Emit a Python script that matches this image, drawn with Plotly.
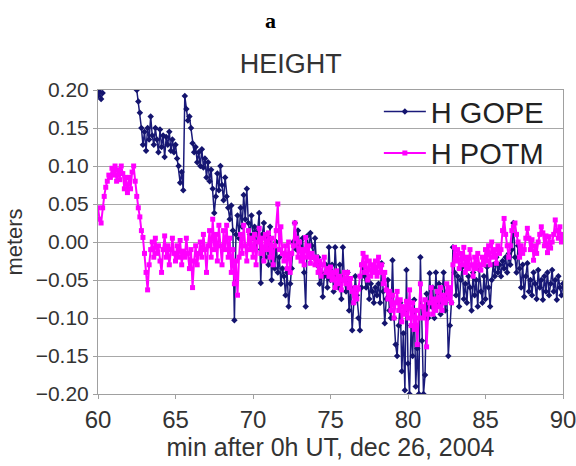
"""HEIGHT panel: GOPE vs POTM height series."""
import numpy as np
import plotly.graph_objects as go

# time stamps, minutes after 0h UT (one sample every 0.1 min)
minutes = np.round(np.arange(600, 901) / 10, 1)

# H GOPE, metres (None = no data / off scale)
h_gope = [
    0.192, 0.198, 0.188, 0.196, None, None, None, None, None, None,                # 60
    None, None, None, None, None, None, None, None, None, None,                    # 61
    None, None, None, None, None, 0.200, 0.185, 0.170, 0.150, 0.128,               # 62
    0.145, 0.120, 0.150, 0.135, 0.165, 0.140, 0.128, 0.150, 0.135, 0.118,          # 63
    0.148, 0.125, 0.140, 0.112, 0.138, 0.128, 0.145, 0.120, 0.135, 0.118,          # 64
    0.128, 0.110, 0.100, 0.078, 0.092, 0.068, 0.192, 0.175, 0.160, 0.165,          # 65
    0.150, 0.130, 0.118, 0.125, 0.105, 0.118, 0.100, 0.122, 0.098, 0.110,          # 66
    0.085, 0.105, 0.080, 0.095, 0.070, 0.038, 0.060, 0.090, 0.068, 0.100,          # 67
    0.075, 0.055, 0.085, 0.060, 0.045, 0.030, 0.048, 0.015, -0.103, 0.010,         # 68
    0.035, 0.005, 0.045, 0.020, 0.062, 0.030, 0.070, 0.025, 0.010, 0.035,          # 69
    0.005, 0.020, -0.010, 0.015, 0.038, -0.054, 0.010, 0.025, -0.020, 0.005,       # 70
    -0.030, 0.020, -0.050, -0.010, -0.035, 0.000, -0.040, -0.020, -0.055, -0.035,  # 71
    -0.045, -0.070, -0.040, -0.085, -0.055, -0.035, 0.000, 0.025, -0.010, 0.015,   # 72
    -0.005, -0.020, 0.005, -0.040, -0.085, 0.008, -0.015, 0.012, -0.005, -0.020,   # 73
    0.005, -0.030, -0.020, -0.055, -0.040, -0.072, -0.045, -0.030, -0.060, -0.007, # 74
    -0.050, -0.030, -0.065, -0.007, -0.045, -0.060, -0.030, -0.075, -0.007, -0.050,  # 75
    -0.065, -0.040, -0.090, -0.060, -0.116, -0.080, -0.045, -0.070, -0.100, -0.116,  # 76
    -0.060, -0.028, -0.045, -0.060, -0.050, -0.075, -0.055, -0.065, -0.080, -0.060,  # 77
    -0.070, -0.055, -0.080, -0.028, -0.065, -0.107, -0.075, -0.050, -0.090, -0.100,  # 78
    -0.024, -0.100, -0.135, -0.150, -0.110, -0.080, -0.170, -0.120, -0.195, -0.037,  # 79
    -0.160, -0.200, -0.110, -0.150, -0.076, -0.190, -0.140, -0.200, -0.020, -0.130,  # 80
    -0.200, -0.175, -0.068, -0.100, -0.041, -0.085, -0.060, -0.100, -0.040, -0.080,  # 81
    -0.055, -0.095, -0.070, -0.040, -0.090, -0.065, -0.150, -0.110, -0.080, -0.007,  # 82
    -0.040, -0.070, -0.045, -0.085, -0.050, -0.033, -0.075, -0.055, -0.080, -0.045,  # 83
    -0.060, -0.090, -0.040, -0.070, -0.050, -0.085, -0.037, -0.065, -0.080, -0.045,  # 84
    -0.075, -0.033, -0.060, -0.085, -0.050, -0.030, -0.045, -0.020, -0.040, -0.030,  # 85
    -0.045, -0.025, -0.035, -0.020, -0.040, -0.015, -0.030, -0.010, 0.025, -0.020,   # 86
    -0.040, -0.005, -0.035, -0.060, -0.030, -0.072, -0.045, -0.028, -0.065, -0.050,  # 87
    -0.070, -0.040, -0.055, -0.075, -0.037, -0.060, -0.050, -0.076, -0.045, -0.065,  # 88
    -0.040, -0.070, -0.055, -0.037, -0.065, -0.050, -0.076, -0.045, -0.060, -0.070,  # 89
    -0.055,                                                                          # 90
]

# H POTM, metres
h_potm = [
    0.045, 0.030, 0.025, 0.045, 0.060, 0.072, 0.080, 0.088, 0.085, 0.097,          # 60
    0.088, 0.100, 0.080, 0.095, 0.082, 0.100, 0.090, 0.070, 0.085, 0.065,          # 61
    0.085, 0.070, 0.092, 0.100, 0.080, 0.060, 0.045, 0.033, 0.015, 0.006,          # 62
    -0.015, -0.040, -0.063, -0.030, -0.010, 0.000, -0.020, 0.005, -0.015, -0.005,  # 63
    -0.025, -0.040, -0.010, 0.008, -0.020, -0.005, -0.030, -0.010, 0.005, -0.015,  # 64
    -0.025, -0.005, -0.020, 0.002, -0.030, -0.012, -0.020, 0.005, -0.015, -0.035,  # 65
    -0.010, -0.060, -0.025, -0.005, -0.030, -0.015, 0.000, -0.020, 0.010, -0.010,  # 66
    -0.040, -0.005, 0.015, -0.020, 0.030, -0.010, 0.010, -0.025, 0.022, -0.005,    # 67
    -0.030, 0.015, -0.010, 0.022, -0.020, 0.005, -0.040, -0.010, -0.055, -0.025,   # 68
    -0.070, -0.020, 0.010, -0.015, 0.022, -0.005, -0.025, 0.015, -0.010, 0.005,    # 69
    -0.020, 0.010, -0.030, 0.000, 0.018, -0.015, 0.005, -0.025, 0.010, -0.010,     # 70
    0.012, -0.020, 0.005, -0.030, -0.005, 0.015, 0.050, -0.010, 0.020, -0.015,     # 71
    -0.025, -0.005, -0.035, 0.000, -0.040, -0.015, -0.005, 0.025, 0.005, -0.020,   # 72
    0.000, -0.025, -0.010, -0.030, 0.006, -0.020, -0.005, -0.028, -0.015, -0.020,  # 73
    -0.030, -0.020, -0.040, -0.025, -0.045, -0.030, -0.020, -0.040, -0.035, -0.045,  # 74
    -0.033, -0.050, -0.040, -0.060, -0.038, -0.055, -0.045, -0.063, -0.050, -0.040,  # 75
    -0.055, -0.040, -0.060, -0.048, -0.065, -0.080, -0.060, -0.075, -0.062, -0.045,  # 76
    -0.030, -0.015, -0.040, -0.020, -0.050, -0.025, -0.045, -0.030, -0.040, -0.025,  # 77
    -0.045, -0.020, -0.040, -0.030, -0.055, -0.040, -0.063, -0.075, -0.065, -0.090,  # 78
    -0.070, -0.100, -0.080, -0.065, -0.090, -0.076, -0.105, -0.085, -0.095, -0.078,  # 79
    -0.100, -0.063, -0.110, -0.080, -0.115, -0.090, -0.135, -0.100, -0.055, -0.085,  # 80
    -0.100, -0.076, -0.138, -0.095, -0.080, -0.060, -0.095, -0.075, -0.090, -0.065,  # 81
    -0.085, -0.060, -0.090, -0.070, -0.080, -0.055, -0.075, -0.060, -0.080, -0.030,  # 82
    -0.007, -0.025, -0.010, -0.035, -0.015, -0.030, -0.007, -0.040, -0.020, -0.035,  # 83
    -0.010, -0.030, -0.045, -0.020, -0.035, -0.015, -0.030, -0.037, -0.020, -0.030,  # 84
    -0.010, -0.025, -0.005, -0.030, 0.000, -0.020, -0.010, -0.028, -0.005, -0.015,   # 85
    -0.010, 0.015, 0.031, 0.010, -0.005, -0.020, -0.005, 0.015, 0.020, 0.025,        # 86
    0.010, 0.000, -0.020, -0.005, -0.015, -0.010, 0.005, 0.018, 0.005, -0.010,       # 87
    0.003, -0.024, -0.005, -0.015, 0.000, 0.010, 0.020, 0.012, -0.005, 0.008,        # 88
    -0.014, 0.007, -0.008, 0.000, 0.010, 0.029, 0.015, 0.005, 0.020, 0.000,          # 89
    0.010,                                                                           # 90
]

x_ticks = [60, 65, 70, 75, 80, 85, 90]
y_ticks = [-0.20, -0.15, -0.10, -0.05, 0.00, 0.05, 0.10, 0.15, 0.20]

FONT = "Liberation Sans, Arial, sans-serif"
GREY = "#333333"

fig = go.Figure()
fig.add_trace(go.Scatter(
    x=minutes, y=h_gope, name="H GOPE", mode="lines+markers",
    line=dict(color="#1a1a7a", width=1.5),
    marker=dict(symbol="diamond", size=5, color="#14146e"),
    connectgaps=False, legendgroup="g",
))
fig.add_trace(go.Scatter(
    x=minutes, y=h_potm, name="H POTM", mode="lines+markers",
    line=dict(color="#ff00ff", width=2),
    marker=dict(symbol="square", size=5, color="#ff00ff"),
    legendgroup="p",
))

# panel letter above the chart title
fig.add_annotation(text="<b>a</b>", x=0.372, y=1.230, xref="paper", yref="paper",
                   xanchor="center", yanchor="middle", showarrow=False,
                   font=dict(family="Liberation Serif, Times New Roman, serif",
                             size=22, color="black"))

# white block behind the legend hides the gridlines there (as in Excel)
fig.add_shape(type="rect", xref="paper", yref="paper",
              x0=0.596, x1=0.978, y0=0.67, y1=0.995,
              fillcolor="white", line=dict(width=0), layer="between")

fig.update_layout(
    width=576, height=466,
    paper_bgcolor="white", plot_bgcolor="white",
    margin=dict(l=98, r=13, t=90, b=72),
    title=dict(text="HEIGHT", x=0.505, xanchor="center", y=0.863, yanchor="middle",
               font=dict(family=FONT, size=27, color=GREY)),
    font=dict(family=FONT, color=GREY),
    showlegend=True,
    legend=dict(x=0.604, y=1.013, xanchor="left", yanchor="top",
                bgcolor="rgba(0,0,0,0)", borderwidth=0, tracegroupgap=1,
                font=dict(size=29, color="#222222"), itemwidth=42),
    xaxis=dict(range=[60, 90], tickvals=x_ticks, showgrid=False,
               showline=True, linecolor="#a0a0a0", linewidth=1, mirror=True,
               ticks="outside", ticklen=4, tickcolor="#a0a0a0",
               ticklabeloverflow="allow", automargin=False,
               tickfont=dict(size=24, color=GREY),
               title=dict(text="min after 0h UT, dec 26, 2004", standoff=4,
                          font=dict(size=25, color=GREY)),
               zeroline=False),
    yaxis=dict(range=[-0.2, 0.2], tickvals=y_ticks, tickformat=".2f",
               showgrid=True, gridcolor="#a8a8a8", gridwidth=1,
               showline=True, linecolor="#a0a0a0", linewidth=1, mirror=True,
               ticks="outside", ticklen=4, tickcolor="#a0a0a0",
               automargin=False,
               tickfont=dict(size=21, color=GREY),
               title=dict(text="meters", standoff=6, font=dict(size=22, color=GREY)),
               zeroline=False),
)

# drop the default 8px body margin so the figure fills the window exactly
fig.write_html("out.html", config={"displayModeBar": False},
               post_script="document.body.style.margin='0';")
